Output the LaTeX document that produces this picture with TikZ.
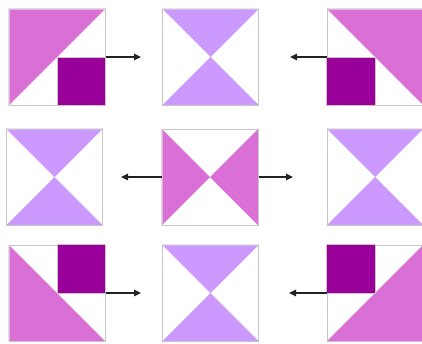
\documentclass[tikz,border=0pt]{standalone}
\usetikzlibrary{arrows.meta, positioning, backgrounds}
\definecolor{corchid}{HTML}{DA70D6}
\definecolor{clilac}{HTML}{CC99FF}
\definecolor{cplum}{HTML}{990099}
\definecolor{cborder}{HTML}{C8C4C8}
\definecolor{carrow}{HTML}{222222}
\tikzset{
  tile/.style={draw=cborder, line width=1pt, minimum size=96pt, inner sep=0pt},
  arrow/.style={-{Triangle[length=7pt, width=6.5pt]}, draw=carrow, line width=1.3pt},
}

\begin{document}
\begin{tikzpicture}[x=1pt, y=-1pt]
  \useasboundingbox (0,0) rectangle (422,343);
  % the nine tiles
  \node[tile] (a1) at (57,57) {};
  \node[tile] (b1) at (210.5,57) {};
  \node[tile] (c1) at (375,57) {};
  \node[tile] (a2) at (54.5,177) {};
  \node[tile] (b2) at (210,177) {};
  \node[tile] (c2) at (375,177) {};
  \node[tile] (a3) at (57,293) {};
  \node[tile] (b3) at (210.5,293) {};
  \node[tile] (c3) at (375,293) {};
  \begin{scope}[on background layer]
    % hourglass tiles
    \foreach \t in {b1,a2,c2,b3}
      \fill[clilac] (\t.north west) -- (\t.north east) -- (\t.south west) -- (\t.south east) -- cycle;
    \fill[corchid] (b2.north west) -- (b2.south west) -- (b2.north east) -- (b2.south east) -- cycle;
    % corner tiles
    \fill[corchid] (a1.north west) -- (a1.north east) -- (a1.south west) -- cycle;
    \fill[corchid] (c1.north west) -- (c1.north east) -- (c1.south east) -- cycle;
    \fill[corchid] (a3.north west) -- (a3.south west) -- (a3.south east) -- cycle;
    \fill[corchid] (c3.north east) -- (c3.south east) -- (c3.south west) -- cycle;
  \end{scope}
  % dark quarters
  \draw[cborder, fill=cplum, line width=0.8pt] (a1.center) rectangle (a1.south east);
  \draw[cborder, fill=cplum, line width=0.8pt] (c1.center) rectangle (c1.south west);
  \draw[cborder, fill=cplum, line width=0.8pt] (a3.center) rectangle (a3.north east);
  \draw[cborder, fill=cplum, line width=0.8pt] (c3.center) rectangle (c3.north west);
  % arrow ends
  \coordinate (t1) at (141,57);
  \coordinate (t2) at (290,57);
  \coordinate (t3) at (121,177);
  \coordinate (t4) at (293,177);
  \coordinate (t5) at (141,293);
  \coordinate (t6) at (289,293);
  \draw[arrow] (a1.east) -- (t1);
  \draw[arrow] (c1.west) -- (t2);
  \draw[arrow] (b2.west) -- (t3);
  \draw[arrow] (b2.east) -- (t4);
  \draw[arrow] (a3.east) -- (t5);
  \draw[arrow] (c3.west) -- (t6);
\end{tikzpicture}
\end{document}
